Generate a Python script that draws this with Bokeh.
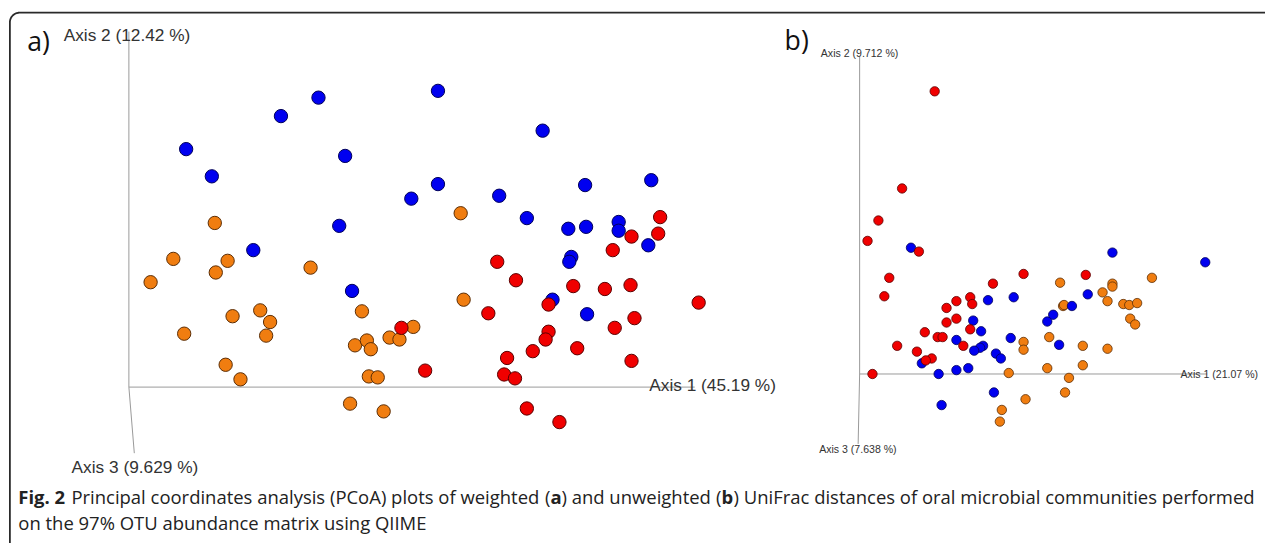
import numpy as np
from bokeh.plotting import figure
from bokeh.models import Range1d
from bokeh.core.properties import value
from bokeh.embed import file_html
from bokeh.resources import INLINE

# ---------------- data: panel a (weighted UniFrac), axis-1 / axis-2 scores ----------------
a_blue_pc1 = [192, 154, 58, 219, 84, 286, 213, 126, 313, 419, 313, 375, 462, 529, 403,
              445, 463, 496, 496, 526, 448, 446, 226, 429, 464]
a_blue_pc2 = [298, 279, 245, 238, 217, 194, 166, 141, 305, 264, 209, 197, 208, 213, 174,
              163, 165, 170, 161, 146, 134, 129, 99, 90, 75]
a_orange_pc1 = [87, 45, 100, 88, 184, 336, 22, 236, 105, 133, 143, 139, 56, 288, 264,
                274, 229, 241, 245, 98, 113, 243, 252, 224, 258, 339]
a_orange_pc2 = [169, 132, 130, 118, 123, 179, 108, 78, 73, 79, 67, 53, 55, 62, 51,
                49, 43, 48, 39, 23, 8, 11, 10, -17, -25, 90]
a_red_pc1 = [538, 536, 509, 490, 373, 276, 300, 392, 450, 482, 508, 425, 364, 512, 492,
             577, 425, 422, 409, 383, 454, 509, 380, 391, 403, 436]
a_red_pc2 = [175, 158, 155, 141, 129, 61, 17, 110, 104, 101, 105, 85, 76, 71, 61,
             87, 57, 49, 37, 30, 40, 27, 13, 9, -22, -36]

# ---------------- data: panel b (unweighted UniFrac) ----------------
b_blue_pc1 = [52, 256, 350, 231, 130, 156, 215, 196, 190, 115, 123, 98, 153, 202, 125,
              122, 116, 138, 143, 63, 110, 98, 80, 136, 83]
b_blue_pc2 = [130, 125, 115, 82, 76, 79, 70, 61, 54, 55, 44, 35, 37, 30, 29,
              27, 24, 21, 16, 11, 6, 4, 0, -19, -32]
b_orange_pc1 = [296, 203, 256, 256, 246, 251, 206, 207, 267, 273, 281, 274, 279, 166, 166,
                192, 226, 251, 226, 190, 151, 212, 208, 168, 144, 142]
b_orange_pc2 = [99, 94, 93, 90, 84, 75, 70, 71, 72, 71, 73, 57, 51, 33, 25,
                38, 29, 26, 9, 6, 1, -4, -19, -26, -37, -49]
b_red_pc1 = [76, 43, 19, 8, 60, 30, 25, 166, 229, 135, 112, 114, 98, 88, 98,
             88, 112, 66, 79, 84, 38, 105, 58, 73, 67, 13]
b_red_pc2 = [291, 191, 158, 137, 126, 99, 80, 103, 102, 93, 79, 72, 75, 68, 57,
             53, 46, 43, 38, 38, 29, 29, 23, 16, 14, 0]

a_axis_labels = ["Axis 1 (45.19 %)", "Axis 2 (12.42 %)", "Axis 3 (9.629 %)"]
b_axis_labels = ["Axis 1 (21.07 %)", "Axis 2 (9.712 %)", "Axis 3 (7.638 %)"]

# caption pieces: (text, bold, join) - join " " puts a word space before the piece
caption_line1 = [("Fig. 2", True, ""),
                 ("Principal coordinates analysis (PCoA) plots of weighted", False, " "),
                 ("(", False, " "), ("a", True, ""), (")", False, ""),
                 ("and unweighted", False, " "),
                 ("(", False, " "), ("b", True, ""), (")", False, ""),
                 ("UniFrac distances of oral microbial communities performed", False, " ")]
caption_line2 = "on the 97% OTU abundance matrix using QIIME"

# ---------------- figure (page coordinates: 1281 x 559 reference frame) ----------------
W, H = 1265, 543
RW, RH = 1281, 559
S = W / RW  # screen px per reference unit

p = figure(width=W, height=H, output_backend="svg", toolbar_location=None,
           x_range=Range1d(0, RW), y_range=Range1d(RH, 0), min_border=0,
           x_axis_location=None, y_axis_location=None, tools="")
p.grid.visible = False
p.outline_line_color = None
p.background_fill_color = "white"
p.border_fill_color = "white"

AX0 = (130, 398)      # panel a origin
BX0 = (870, 384.5)    # panel b origin
p.extra_x_ranges = {"ax": Range1d(-AX0[0], RW - AX0[0]), "bx": Range1d(-BX0[0], RW - BX0[0])}
p.extra_y_ranges = {"ay": Range1d(AX0[1] - RH, AX0[1]), "by": Range1d(BX0[1] - RH, BX0[1])}

# frame (rounded top-left corner, open to the right and bottom)
r = 10
th = np.linspace(np.pi, 1.5 * np.pi, 24)
fx = [9.5] + list(9.5 + r + r * np.cos(th)) + [RW + 5]
fy = [RH + 5] + list(12.5 + r + r * np.sin(th)) + [12.5]
p.line(fx, fy, line_color="#2a2a2a", line_width=1.8)

AX_COL = "#9a9a9a"
# panel a axes
p.line([0, 573], [0, 0], x_range_name="ax", y_range_name="ay", line_color=AX_COL, line_width=1)
p.line([0, 0], [0, 366], x_range_name="ax", y_range_name="ay", line_color=AX_COL, line_width=1)
p.line([0, 5.5], [0, -68], x_range_name="ax", y_range_name="ay", line_color=AX_COL, line_width=1)
# panel b axes
p.line([0, 352], [0, 0], x_range_name="bx", y_range_name="by", line_color=AX_COL, line_width=1)
p.line([0, 0], [0, 326.5], x_range_name="bx", y_range_name="by", line_color=AX_COL, line_width=1)
p.line([0, -1.5], [0, -72], x_range_name="bx", y_range_name="by", line_color=AX_COL, line_width=1)

COLS = {"orange": ("#f07d10", "#5c2e06"), "blue": ("#0000f0", "#00005a"), "red": ("#f00000", "#5a0000")}

def pts(xs, ys, col, rx, ry, size, lw):
    fc, lc = COLS[col]
    p.scatter(xs, ys, x_range_name=rx, y_range_name=ry, size=size * S,
              fill_color=fc, line_color=lc, line_width=lw)

pts(a_orange_pc1, a_orange_pc2, "orange", "ax", "ay", 13.5, 1)
pts(a_blue_pc1, a_blue_pc2, "blue", "ax", "ay", 13.5, 1)
pts(a_red_pc1, a_red_pc2, "red", "ax", "ay", 13.5, 1)
pts(b_orange_pc1, b_orange_pc2, "orange", "bx", "by", 9.5, 0.8)
pts(b_blue_pc1, b_blue_pc2, "blue", "bx", "by", 9.5, 0.8)
pts(b_red_pc1, b_red_pc2, "red", "bx", "by", 9.5, 0.8)

def fs(px):
    return value("%.2fpx" % (px * S))

# axis labels
p.text(x=[657, 64, 72], y=[396, 36, 480], text=a_axis_labels,
       text_font=value("Liberation Sans"), text_font_size=fs(17.5),
       text_baseline="middle", text_align="left", text_color="#333333")
p.text(x=[1195, 830.7, 829], y=[385, 54, 461.7], text=b_axis_labels,
       text_font=value("Liberation Sans"), text_font_size=fs(10.7),
       text_baseline="middle", text_align="left", text_color="#333333")

# panel letters
p.text(x=[27, 794], y=[42, 41], text=["a)", "b)"], text_font=value("Open Sans"),
       text_font_size=fs(27), text_baseline="middle", text_align="left",
       text_color="#111111")

# caption (approximate Open Sans advance widths, em)
ADV = {' ': .26, 'a': .556, 'b': .613, 'c': .476, 'd': .613, 'e': .561, 'f': .339, 'g': .548,
       'h': .614, 'i': .253, 'k': .525, 'l': .253, 'm': .930, 'n': .614, 'o': .604, 'p': .613,
       'r': .408, 's': .477, 't': .353, 'u': .614, 'w': .779, 'x': .525, 'y': .501, '(': .295,
       ')': .295, '.': .266, '%': .803, 'P': .604, 'C': .633, 'A': .633, 'U': .738, 'F': .549,
       'O': .781, 'T': .551, 'I': .279, 'M': .903, 'E': .548, 'Q': .781}

def width(s, size, bold):
    w = sum(ADV.get(c, .572) for c in s) * size * 1.0
    return w * (1.07 if bold else 1.0)

CFS = 18.7
cx = 18.0
xs, txt, bxs, btxt = [], [], [], []
for s, bold, join in caption_line1:
    cx += width(join, CFS, False)
    if bold:
        bxs.append(cx); btxt.append(s)
    else:
        xs.append(cx); txt.append(s)
    cx += width(s, CFS, bold)
Y1, Y2 = 511, 537
p.text(x=xs, y=[Y1] * len(xs), text=txt, text_font=value("Open Sans"), text_font_size=fs(CFS),
       text_baseline="middle", text_align="left", text_color="#222222")
p.text(x=bxs, y=[Y1] * len(bxs), text=btxt, text_font=value("Open Sans"), text_font_size=fs(CFS),
       text_font_style="bold", text_baseline="middle", text_align="left", text_color="#222222")
p.text(x=[18], y=[Y2], text=[caption_line2], text_font=value("Open Sans"), text_font_size=fs(CFS),
       text_baseline="middle", text_align="left", text_color="#222222")

open("out.html", "w").write(file_html(p, INLINE))
